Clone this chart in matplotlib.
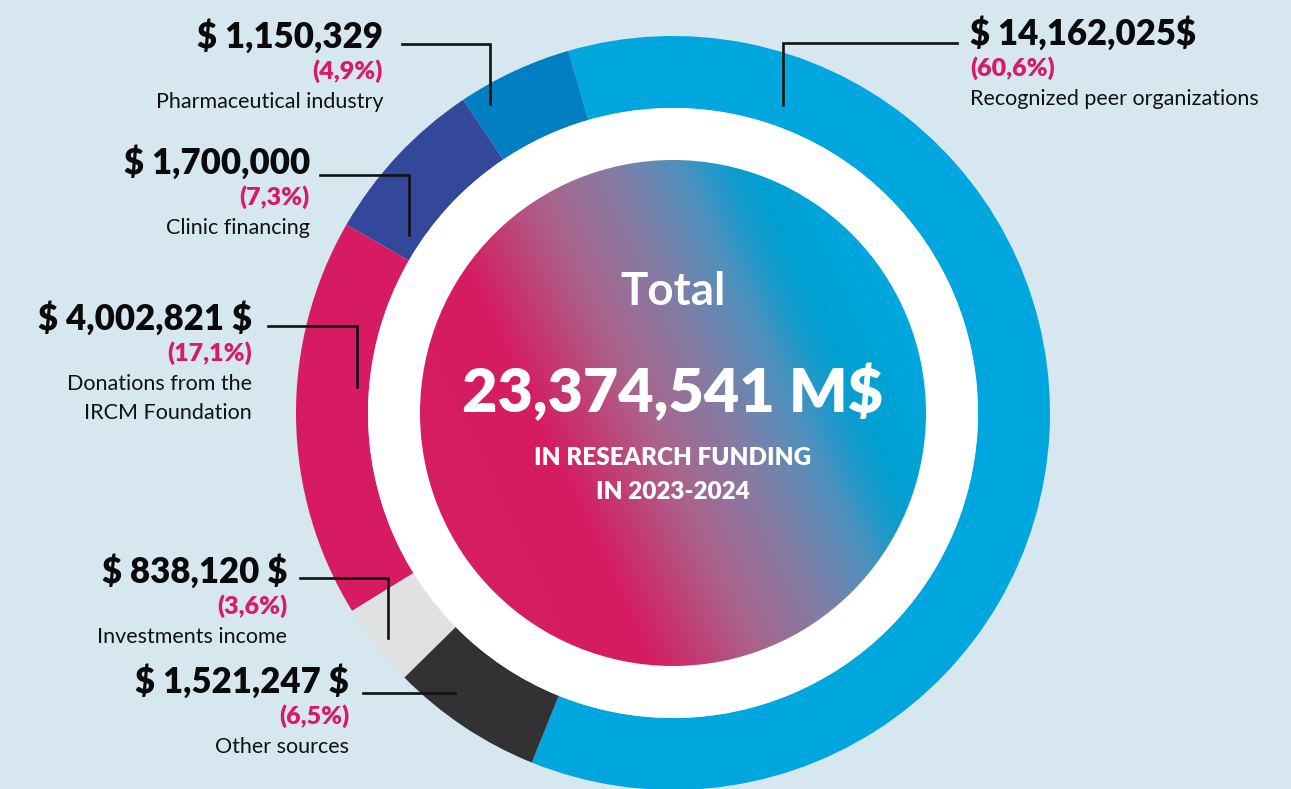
import numpy as np
import matplotlib.pyplot as plt
from matplotlib.patches import Circle
from matplotlib.colors import LinearSegmentedColormap

W, H = 1291, 789

# Research funding 2023-2024, by source
sources = ['Recognized peer organizations', 'Pharmaceutical industry', 'Clinic financing',
           'Donations from the\nIRCM Foundation', 'Investments income', 'Other sources']
amounts = [14162025, 1150329, 1700000, 4002821, 838120, 1521247]
amount_labels = ['$ 14,162,025$', '$ 1,150,329', '$ 1,700,000', '$ 4,002,821 $',
                 '$ 838,120 $', '$ 1,521,247 $']
share_labels = ['(60,6%)', '(4,9%)', '(7,3%)', '(17,1%)', '(3,6%)', '(6,5%)']
total_label = '23,374,541 M$'
subtitle = ['IN RESEARCH FUNDING', 'IN 2023-2024']

colors = ['#00A6DE', '#0080C2', '#33479B', '#D71B62', '#DFE1E3', '#323234']
bg = '#D6E7F0'
pink = '#D81B66'

# label placement (pixels from top-left): text x, amount baseline, alignment
label_pos = [(970, 45, 'left'), (383, 48, 'right'), (310, 174, 'right'),
             (252, 330, 'right'), (287, 583, 'right'), (349, 693, 'right')]
# leader lines: start x, line y, elbow x, end y
leaders = [(957, 43, 783, 105), (402, 44, 490, 104), (320, 175, 409, 235),
           (268, 326, 357, 387), (300, 578, 388, 638), (363, 693, 455, 693)]

cx, cy = 673, 413
r_out, r_ring, r_white, r_grad = 377, 72, 305, 253


def Y(py):
    return H - py


fig = plt.figure(figsize=(W / 100, H / 100), dpi=100, facecolor=bg)
ax = fig.add_axes([0, 0, 1, 1])
ax.set_facecolor(bg)

ax.pie(amounts, colors=colors, startangle=248, counterclock=True,
       radius=r_out, center=(cx, Y(cy)),
       wedgeprops=dict(width=r_ring, linewidth=0))

ax.add_patch(Circle((cx, Y(cy)), r_white, facecolor='white', edgecolor='none', zorder=2))

# pink -> cyan gradient disc
n = 600
gx, gy = np.meshgrid(np.linspace(-1, 1, n), np.linspace(-1, 1, n))
a = np.deg2rad(25)
t = (gx * np.cos(a) + gy * np.sin(a)) / 2 + 0.5
stops = [(0.0, (214, 30, 98)), (0.25, (214, 28, 97)), (0.45, (170, 100, 140)),
         (0.6, (130, 125, 165)), (0.72, (80, 145, 190)), (0.8, (20, 155, 205)),
         (0.85, (0, 160, 210)), (1.0, (0, 168, 222))]
cmap = LinearSegmentedColormap.from_list('grad', [(p, tuple(v / 255 for v in c)) for p, c in stops])
clip = Circle((cx, Y(cy)), r_grad, transform=ax.transData)
im = ax.imshow(t, cmap=cmap, vmin=0, vmax=1, origin='lower', zorder=3,
               extent=[cx - r_grad, cx + r_grad, Y(cy) - r_grad, Y(cy) + r_grad])
im.set_clip_path(clip)

ax.set_xlim(0, W)
ax.set_ylim(0, H)
ax.set_aspect('equal')
ax.axis('off')

# centre text
ax.text(673, Y(305), 'Total', color='white', fontsize=33, family='Lato',
        fontweight='bold', ha='center', va='baseline', zorder=5)
ax.text(673, Y(412), total_label, color='white', fontsize=44, family='Lato',
        fontweight='heavy', ha='center', va='baseline', zorder=5, parse_math=False)
for line, base in zip(subtitle, [465, 499]):
    ax.text(673, Y(base), line, color='white', fontsize=17.5, family='Lato',
            fontweight='heavy', ha='center', va='baseline', zorder=5)

# source labels
for src, amt, shr, (x, base, al) in zip(sources, amount_labels, share_labels, label_pos):
    ax.text(x, Y(base), amt, color='#0A0A0A', fontsize=25, family='Lato',
            fontweight='heavy', ha=al, va='baseline', zorder=5, parse_math=False)
    ax.text(x, Y(base + 31), shr, color=pink, fontsize=18, family='Lato',
            fontweight='heavy', ha=al, va='baseline', zorder=5)
    for i, line in enumerate(src.split('\n')):
        ax.text(x, Y(base + 60 + 29 * i), line, color='#111111', fontsize=15.5, family='Lato',
                ha=al, va='baseline', zorder=5)

for x0, y0, x1, y1 in leaders:
    ax.plot([x0, x1, x1], [Y(y0), Y(y0), Y(y1)], color='#111111', lw=1.9,
            solid_joinstyle='miter', zorder=6)

fig.savefig('out.png', dpi=100, facecolor=bg)
